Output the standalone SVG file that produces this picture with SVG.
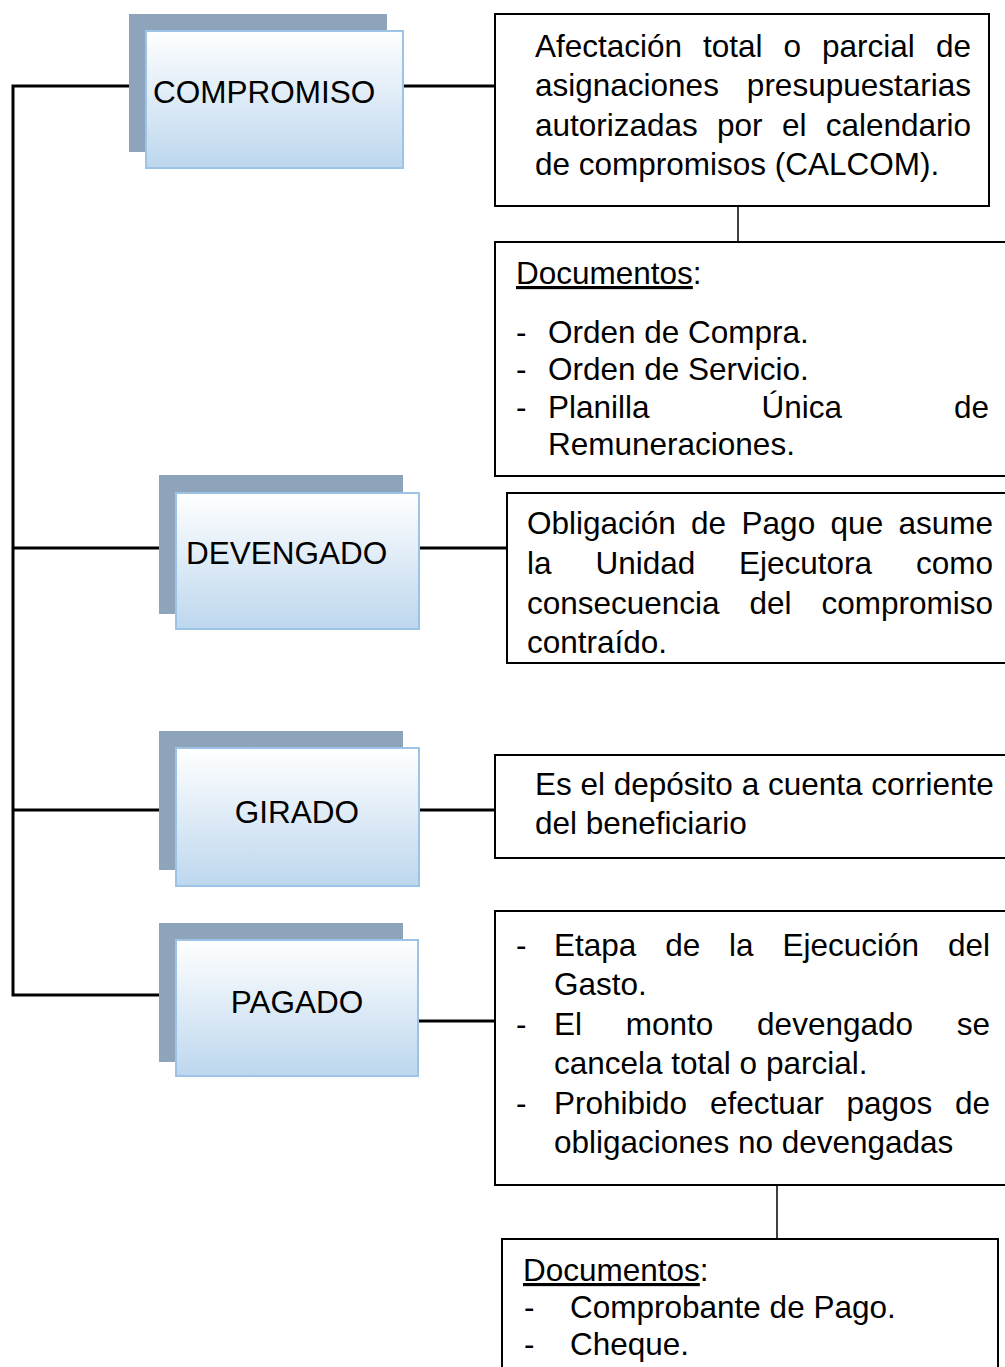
<svg xmlns="http://www.w3.org/2000/svg" width="1005" height="1367" viewBox="0 0 1005 1367">
<defs>
<linearGradient id="g" x1="0" y1="0" x2="0" y2="1">
<stop offset="0" stop-color="#ffffff"/>
<stop offset="1" stop-color="#bdd7ee"/>
</linearGradient>
<style>
.sh{fill:#8da4bb;}
.fr{fill:url(#g);stroke:#9dc3e6;stroke-width:2;}
.bx{fill:#ffffff;stroke:#000;stroke-width:2;}
.t{font-family:"Liberation Sans",Arial,sans-serif;font-size:31.5px;fill:#000;}
.c{stroke:#000;stroke-width:3;fill:none;}
.c2{stroke:#000;stroke-width:1.5;fill:none;}
.u{text-decoration:underline;}
</style>
</defs>
<rect width="1005" height="1367" fill="#ffffff"/>
<g id="connectors">
<polyline class="c" points="146,86 13,86 13,995 176,995"/>
<line class="c" x1="13" y1="548" x2="176" y2="548"/>
<line class="c" x1="13" y1="810" x2="176" y2="810"/>
<line class="c" x1="403" y1="86" x2="495" y2="86"/>
<line class="c" x1="419" y1="548" x2="507" y2="548"/>
<line class="c" x1="419" y1="810" x2="495" y2="810"/>
<line class="c" x1="418" y1="1021" x2="495" y2="1021"/>
<line class="c2" x1="738" y1="206" x2="738" y2="242"/>
<line class="c2" x1="777" y1="1185" x2="777" y2="1239"/>
</g>
<g id="compromiso">
<rect class="sh" x="129" y="14" width="258" height="138"/>
<rect class="fr" x="146" y="31" width="257" height="137"/>
<text class="t" x="153" y="103">COMPROMISO</text>
</g>
<g id="devengado">
<rect class="sh" x="159" y="475" width="244" height="139"/>
<rect class="fr" x="176" y="493" width="243" height="136"/>
<text class="t" x="186" y="564">DEVENGADO</text>
</g>
<g id="girado">
<rect class="sh" x="159" y="731" width="244" height="139"/>
<rect class="fr" x="176" y="748" width="243" height="138"/>
<text class="t" x="297" y="823" text-anchor="middle">GIRADO</text>
</g>
<g id="pagado">
<rect class="sh" x="159" y="923" width="244" height="139"/>
<rect class="fr" x="176" y="940" width="242" height="136"/>
<text class="t" x="297" y="1013" text-anchor="middle">PAGADO</text>
</g>
<g id="desc-compromiso">
<rect class="bx" x="495" y="14" width="494" height="192"/>
<text class="t" y="57"><tspan x="535">Afectación</tspan><tspan x="703">total</tspan><tspan x="783.6">o</tspan><tspan x="822">parcial</tspan><tspan x="971" text-anchor="end">de</tspan></text>
<text class="t" y="96"><tspan x="535">asignaciones</tspan><tspan x="971" text-anchor="end">presupuestarias</tspan></text>
<text class="t" y="136"><tspan x="535">autorizadas</tspan><tspan x="717">por</tspan><tspan x="782">el</tspan><tspan x="971" text-anchor="end">calendario</tspan></text>
<text class="t" x="535" y="175">de compromisos (CALCOM).</text>
</g>
<g id="docs-compromiso">
<rect class="bx" x="495" y="242" width="520" height="234"/>
<text class="t" y="284"><tspan x="516" class="u">Documentos</tspan><tspan>:</tspan></text>
<text class="t" x="516" y="343">-</text>
<text class="t" x="548" y="343">Orden de Compra.</text>
<text class="t" x="516" y="380">-</text>
<text class="t" x="548" y="380">Orden de Servicio.</text>
<text class="t" x="516" y="418">-</text>
<text class="t" y="418"><tspan x="548">Planilla</tspan><tspan x="761.5">Única</tspan><tspan x="989" text-anchor="end">de</tspan></text>
<text class="t" x="548" y="455">Remuneraciones.</text>
</g>
<g id="desc-devengado">
<rect class="bx" x="507" y="493" width="510" height="170"/>
<text class="t" y="534"><tspan x="527">Obligación</tspan><tspan x="691">de</tspan><tspan x="741.6">Pago</tspan><tspan x="830.6">que</tspan><tspan x="993" text-anchor="end">asume</tspan></text>
<text class="t" y="574"><tspan x="527">la</tspan><tspan x="595.4">Unidad</tspan><tspan x="739">Ejecutora</tspan><tspan x="993" text-anchor="end">como</tspan></text>
<text class="t" y="614"><tspan x="527">consecuencia</tspan><tspan x="749.5">del</tspan><tspan x="993" text-anchor="end">compromiso</tspan></text>
<text class="t" x="527" y="653">contraído.</text>
</g>
<g id="desc-girado">
<rect class="bx" x="495" y="755" width="520" height="103"/>
<text class="t" x="535" y="795">Es el depósito a cuenta corriente</text>
<text class="t" x="535" y="834">del beneficiario</text>
</g>
<g id="desc-pagado">
<rect class="bx" x="495" y="911" width="520" height="274"/>
<text class="t" x="516" y="956">-</text>
<text class="t" y="956"><tspan x="554">Etapa</tspan><tspan x="665.2">de</tspan><tspan x="729.1">la</tspan><tspan x="782.5">Ejecución</tspan><tspan x="990" text-anchor="end">del</tspan></text>
<text class="t" x="554" y="995">Gasto.</text>
<text class="t" x="516" y="1035">-</text>
<text class="t" y="1035"><tspan x="554">El</tspan><tspan x="625.8">monto</tspan><tspan x="757.1">devengado</tspan><tspan x="990" text-anchor="end">se</tspan></text>
<text class="t" x="554" y="1074">cancela total o parcial.</text>
<text class="t" x="516" y="1114">-</text>
<text class="t" y="1114"><tspan x="554">Prohibido</tspan><tspan x="709.9">efectuar</tspan><tspan x="846.5">pagos</tspan><tspan x="990" text-anchor="end">de</tspan></text>
<text class="t" x="554" y="1153">obligaciones no devengadas</text>
</g>
<g id="docs-pagado">
<rect class="bx" x="502" y="1239" width="496" height="140"/>
<text class="t" y="1281"><tspan x="523" class="u">Documentos</tspan><tspan>:</tspan></text>
<text class="t" x="524" y="1318">-</text>
<text class="t" x="570" y="1318">Comprobante de Pago.</text>
<text class="t" x="524" y="1355">-</text>
<text class="t" x="570" y="1355">Cheque.</text>
</g>
</svg>
